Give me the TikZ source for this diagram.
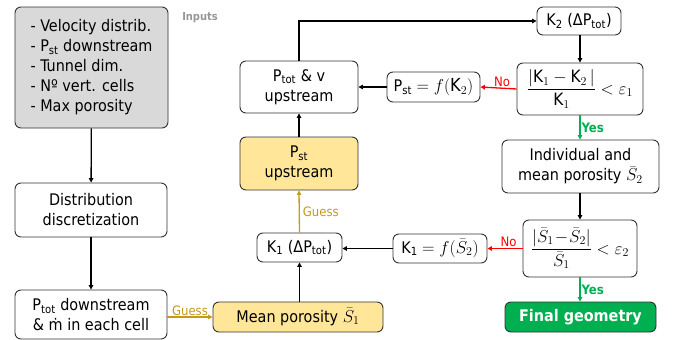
\documentclass[tikz,border=0pt]{standalone}
\usepackage{amsmath}
\usepackage{fontspec}
\setmainfont{DejaVu Sans Condensed}
\usetikzlibrary{arrows.meta}
\definecolor{gfill}{RGB}{217,217,217}
\definecolor{yfill}{RGB}{255,230,153}
\definecolor{gold}{RGB}{197,154,25}
\definecolor{okgreen}{RGB}{0,176,80}
\definecolor{nored}{RGB}{255,0,0}
\definecolor{bord}{RGB}{50,50,50}
\definecolor{inlab}{RGB}{150,150,150}
\newcommand\tK{\mbox{K}}
\begin{document}
\begin{tikzpicture}[x=1pt,y=-1pt,
  box/.style={draw=bord, line width=0.9pt, rounded corners=6pt, align=center, inner sep=0pt,
     font=\fontsize{16}{20}\selectfont},
  mbox/.style={box, font=\fontsize{17}{20}\selectfont},
  conn/.style={line width=1.3pt, -{Triangle[length=4.5pt,width=4.5pt]}},
  guess/.style={conn, draw=gold},
  noarr/.style={conn, draw=nored},
  yesarr/.style={conn, draw=okgreen},
  lab/.style={font=\fontsize{13}{15}\selectfont, inner sep=1pt}
]
\useasboundingbox (0,0) rectangle (675,340);
\node[box, fill=gfill, minimum width=153pt, minimum height=121pt, align=left] (inputs) at (91.5,67.5)
  {- Velocity distrib.\\- P\textsubscript{st} downstream\\- Tunnel dim.\\- Nº vert. cells\\- Max porosity};
\node[font=\fontsize{11}{13}\selectfont\bfseries, text=inlab] (inlabel) at (200,18) {Inputs};
\node[box, minimum width=152pt, minimum height=54pt] (dist) at (91,210) {Distribution\\discretization};
\node[box, minimum width=152pt, minimum height=49pt] (ptotd) at (91,314.5) {P\textsubscript{tot} downstream\\\& ṁ in each cell};
\node[box, fill=yfill, minimum width=170pt, minimum height=30pt] (meanp) at (298,317) {Mean porosity {\fontsize{18}{20}\selectfont$\bar{S}_1$}};
\node[box, minimum width=85pt, minimum height=29pt] (k1) at (299.5,247.5) {K\textsubscript{1} (ΔP\textsubscript{tot})};
\node[box, fill=yfill, minimum width=118pt, minimum height=53pt] (pst) at (299,163.5) {P\textsubscript{st}\\upstream};
\node[box, minimum width=118pt, minimum height=52pt] (ptotv) at (299,87) {P\textsubscript{tot} \& v\\upstream};
\node[box, minimum width=84pt, minimum height=28pt] (k2) at (579,21) {K\textsubscript{2} (ΔP\textsubscript{tot})};
\node[mbox, minimum width=126pt, minimum height=52pt] (c1) at (580,89) {$\dfrac{|\tK_1-\tK_2\,|}{\tK_1}<\varepsilon_1$};
\node[box, minimum width=93pt, minimum height=30pt] (pstf) at (433.5,87) {P\textsubscript{st} {\fontsize{18}{20}\selectfont$=f(\tK_2)$}};
\node[box, minimum width=157pt, minimum height=53pt] (indiv) at (580.5,166.5) {Individual and\\mean porosity {\fontsize{18}{20}\selectfont$\bar{S}_2$}};
\node[mbox, minimum width=114pt, minimum height=57pt] (c2) at (580,248.5) {$\dfrac{|\bar{S}_1\!-\!\bar{S}_2|}{\bar{S}_1}<\varepsilon_2$};
\node[box, minimum width=94pt, minimum height=29pt] (k1f) at (440,248.5) {K\textsubscript{1} {\fontsize{18}{20}\selectfont$=f(\bar{S}_2)$}};
\node[box, draw=bord, fill=okgreen, text=white, font=\fontsize{16}{20}\selectfont\bfseries, minimum width=151pt, minimum height=30pt] (final) at (580.5,317) {Final geometry};

\draw[conn] (inputs) -- (dist);
\draw[conn] (dist) -- (ptotd);
\draw[guess] (ptotd.east |- meanp) -- node[lab, above, text=gold] {Guess} (meanp.west);
\draw[conn] (meanp.north -| k1) -- (k1.south);
\draw[guess] (k1.north) -- node[lab, right, text=gold, xshift=2pt] {Guess} (pst.south);
\draw[conn] (pst.north) -- (ptotv.south);
\draw[conn] (ptotv.north) |- (k2.west);
\draw[conn] (k2.south -| c1) -- (c1.north);
\draw[noarr] (c1.west) -- node[lab, above, text=nored, pos=0.4] {No} (pstf.east);
\draw[conn] (pstf.west) -- (ptotv.east |- pstf);
\draw[yesarr] (c1.south) -- node[lab, right, text=okgreen, font=\fontsize{13}{15}\selectfont\bfseries] {Yes} (indiv.north -| c1);
\draw[conn] (indiv.south -| c2) -- (c2.north);
\draw[noarr] (c2.west) -- node[lab, above, text=nored, pos=0.4] {No} (k1f.east);
\draw[conn] (k1f.west) -- (k1.east |- k1f);
\draw[yesarr] (c2.south) -- node[lab, right, text=okgreen, font=\fontsize{13}{15}\selectfont\bfseries] {Yes} (final.north -| c2);
\end{tikzpicture}
\end{document}
